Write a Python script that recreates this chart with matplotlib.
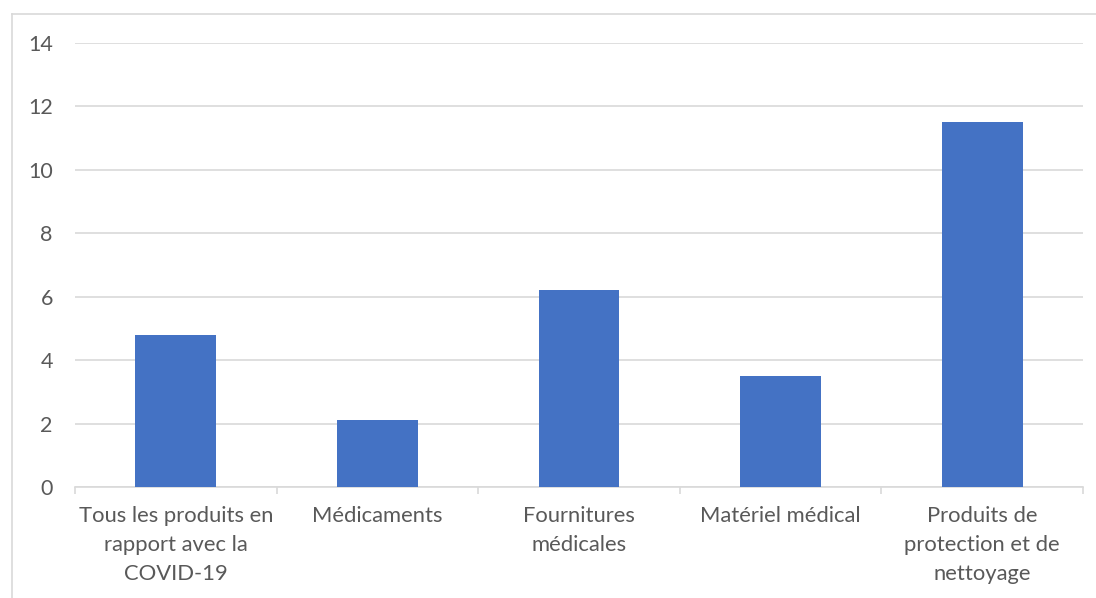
import matplotlib
matplotlib.use("Agg")
import matplotlib.pyplot as plt
from matplotlib.lines import Line2D

categories = [
	"Tous les produits en\nrapport avec la\nCOVID-19",
	"Médicaments",
	"Fournitures\nmédicales",
	"Matériel médical",
	"Produits de\nprotection et de\nnettoyage",
]
values = [4.8, 2.1, 6.2, 3.5, 11.5]
y_ticks = [0, 2, 4, 6, 8, 10, 12, 14]

grey_line = "#d9d9d9"
text_grey = "#595959"
bar_blue = "#4472c4"

plt.rcParams["font.family"] = ["Lato", "DejaVu Sans"]

W, H = 1096, 598
figure = plt.figure(figsize=(W / 100, H / 100), dpi=100)
axis = figure.add_axes([75 / W, 1 - 487 / H, (1083 - 75) / W, (487 - 43) / H])

positions = list(range(len(categories)))
axis.bar(positions, values, width=0.4, color=bar_blue, zorder=3)

axis.set_xlim(-0.5, len(categories) - 0.5)
axis.set_ylim(0, 14)
axis.set_yticks(y_ticks)
axis.set_yticklabels([str(v) for v in y_ticks])
axis.yaxis.grid(True, color=grey_line, linewidth=1.2, zorder=0)
axis.tick_params(axis="y", length=0, pad=16, labelsize=15.5, labelcolor=text_grey)

axis.set_xticks(positions)
axis.set_xticklabels(categories, linespacing=1.55)
axis.set_xticks([p - 0.5 for p in positions] + [len(categories) - 0.5], minor=True)
axis.tick_params(axis="x", which="major", length=0, pad=14, labelsize=15.8, labelcolor=text_grey)
axis.tick_params(axis="x", which="minor", length=5, width=1.2, color=grey_line)

for side in ["top", "right", "left"]:
	axis.spines[side].set_visible(False)
axis.spines["bottom"].set_color(grey_line)
axis.spines["bottom"].set_linewidth(1.2)

# chart frame, cut off on the right and bottom like the screenshot
figure.add_artist(Line2D([11.5 / W, 11.5 / W], [1 - 14 / H, 0], color=grey_line, linewidth=1.2))
figure.add_artist(Line2D([11.5 / W, 1], [1 - 14 / H, 1 - 14 / H], color=grey_line, linewidth=1.2))

figure.savefig("out.png", dpi=100)
